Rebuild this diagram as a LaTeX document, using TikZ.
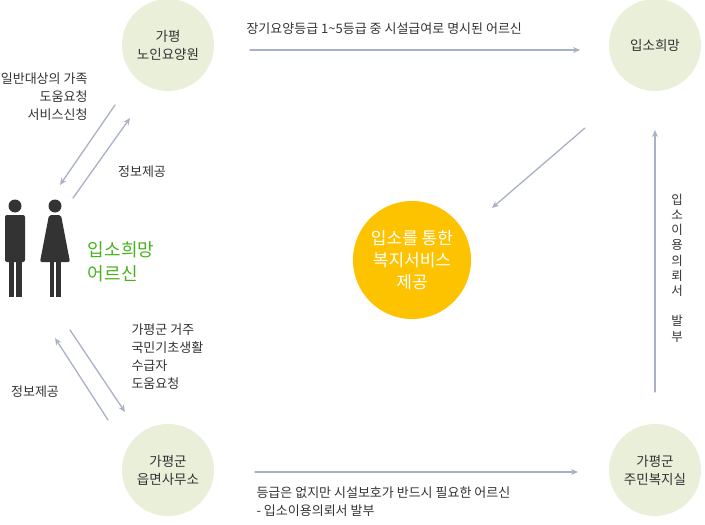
\documentclass[tikz,border=0pt]{standalone}
\usepackage{fontspec}
\setmainfont{Noto Sans CJK KR}
\usetikzlibrary{positioning,arrows.meta}
\definecolor{circgreen}{HTML}{E9EFD9}
\definecolor{sunyellow}{HTML}{FDC300}
\definecolor{arrowgray}{HTML}{A9B1C6}
\definecolor{textgray}{HTML}{333333}
\definecolor{textgreen}{HTML}{48B21C}
\tikzset{>=stealth,
  place/.style={circle, fill=circgreen, minimum size=92pt, align=center, font=\fontsize{13.5}{18}\selectfont, text=textgray},
  flow/.style={-{Stealth[length=7pt,width=6pt]}, arrowgray, line width=1.3pt},
  note/.style={font=\fontsize{13}{18}\selectfont, text=textgray, align=left}}
\begin{document}
\begin{tikzpicture}[x=1pt,y=-1pt,line cap=round]
\useasboundingbox (0,0) rectangle (705,525);

\node[place] (gp) at (168,45) {가평\\노인요양원};
\node[place] (hope) at (655,45) {입소희망};
\node[place] (office) at (168,470) {가평군\\읍면사무소};
\node[place] (center) at (655,470) {가평군\\주민복지실};
\node[circle, fill=sunyellow, minimum size=118pt, align=center, text=white,
  font=\fontsize{17}{22}\selectfont] (svc) at (412,260) {입소를 통한\\복지서비스\\제공};

% people icons
\fill[textgray] (15,206) circle (6.5);
\fill[textgray, rounded corners=2] (5,215) rectangle (25,262);
\fill[textgray] (8.5,258) rectangle (14.3,297);
\fill[textgray] (15.7,258) rectangle (21.5,297);
\fill[textgray] (55,206) circle (6.5);
\fill[textgray, rounded corners=2] (49,215) -- (61,215) -- (70,262) -- (40,262) -- cycle;
\fill[textgray] (49.5,258) rectangle (54.3,297);
\fill[textgray] (55.7,258) rectangle (60.5,297);
\node[text=textgreen, align=left, font=\fontsize{18}{24}\selectfont] (elder) at (121,262) {입소희망\\어르신};

\coordinate (t1) at (250,50); \coordinate (t2) at (580,50);
\draw[flow] (t1) -- (t2);
\node[note, anchor=south west] at (243,38) {장기요양등급 1\textasciitilde5등급 중 시설급여로 명시된 어르신};

\coordinate (r1) at (655,392); \coordinate (r2) at (655,130);
\draw[flow] (r1) -- (r2);
\node[note, align=center, font=\fontsize{12.5}{15.2}\selectfont] at (677,268) {입\\소\\이\\용\\의\\뢰\\서\\ \\발\\부};

\coordinate (d1) at (585,128); \coordinate (d2) at (492,208);
\draw[flow] (d1) -- (d2);

\coordinate (a1) at (115,105); \coordinate (a2) at (60,185);
\coordinate (a3) at (73,198); \coordinate (a4) at (130,118);
\draw[flow] (a1) -- (a2);
\draw[flow] (a3) -- (a4);
\node[note, align=right, anchor=east] at (91,97) {일반대상의 가족\\도움요청\\서비스신청};
\node[note] at (142,172) {정보제공};

\coordinate (b1) at (70,330); \coordinate (b2) at (125,412);
\coordinate (b3) at (108,420); \coordinate (b4) at (55,338);
\draw[flow] (b1) -- (b2);
\draw[flow] (b3) -- (b4);
\node[note, anchor=north west] at (128,320) {가평군 거주\\국민기초생활\\수급자\\도움요청};
\node[note] at (35,392) {정보제공};

\coordinate (e1) at (255,472); \coordinate (e2) at (578,472);
\draw[flow] (e1) -- (e2);
\node[note, anchor=north west] at (253,483) {등급은 없지만 시설보호가 반드시 필요한 어르신\\- 입소이용의뢰서 발부};
\end{tikzpicture}
\end{document}
